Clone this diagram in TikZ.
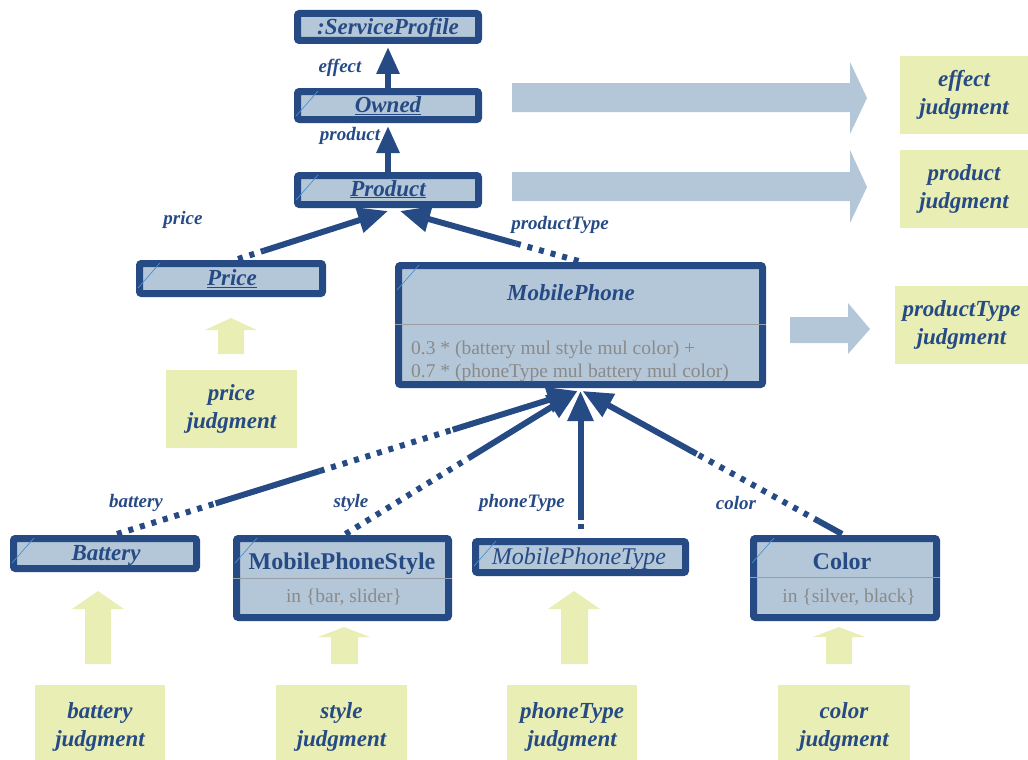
\documentclass[tikz,border=0pt]{standalone}
\usepackage{fontspec}
\setmainfont{Liberation Serif}
\usetikzlibrary{arrows.meta,calc}

\definecolor{umlblue}{HTML}{264A84}
\definecolor{umlfill}{HTML}{B4C7D9}
\definecolor{judgefill}{HTML}{E8EEB4}
\definecolor{notegray}{HTML}{8A8A8A}
\definecolor{sepgray}{HTML}{9A9EA6}
\definecolor{cornerblue}{HTML}{4A90D0}

\tikzset{
  umlbox/.style={draw=umlblue, line width=7pt, fill=umlfill, rounded corners=2pt, inner sep=0pt},
  objname/.style={text=umlblue, inner sep=0pt, anchor=base, font=\fontsize{23}{26}\selectfont\bfseries\itshape},
  bigtitle/.style={text=umlblue, inner sep=0pt, anchor=base, font=\fontsize{24}{26}\selectfont\bfseries},
  graytext/.style={text=notegray, inner sep=0pt, anchor=base, font=\fontsize{19.5}{24}\selectfont},
  rolelbl/.style={text=umlblue, inner sep=0pt, font=\fontsize{19}{22}\selectfont\bfseries\itshape},
  judgebox/.style={fill=judgefill, text=umlblue, align=center, inner sep=0pt,
    font=\fontsize{23}{28}\selectfont\bfseries\itshape},
  link/.style={draw=umlblue, line width=6pt},
  dotlink/.style={link, dash pattern=on 5pt off 7pt},
  headtip/.style={-{Triangle[length=30pt,width=25pt]}},
  smalltip/.style={-{Triangle[length=27pt,width=22pt]}},
  flowarrow/.style={fill=umlfill},
  feedarrow/.style={fill=judgefill},
  sep/.style={draw=sepgray, line width=1pt},
  corner/.style={draw=cornerblue, line width=0.7pt}
}

\begin{document}
\begin{tikzpicture}[x=1pt,y=-1pt]
\useasboundingbox (0,0) rectangle (1028,760);

% ---------- class boxes ----------
\node[umlbox, minimum width=181pt, minimum height=27pt] (sp) at (388,27) {};
\node[umlbox, minimum width=181pt, minimum height=28pt] (owned) at (388,105.5) {};
\node[umlbox, minimum width=181pt, minimum height=29pt] (product) at (388,190) {};
\node[umlbox, minimum width=183pt, minimum height=30pt] (price) at (231,278.5) {};
\node[umlbox, minimum width=364pt, minimum height=119pt] (mp) at (580.5,325) {};
\node[umlbox, minimum width=183pt, minimum height=30pt] (battery) at (105,553.5) {};
\node[umlbox, minimum width=212pt, minimum height=79pt] (style) at (342.5,578) {};
\node[umlbox, minimum width=210pt, minimum height=31pt] (mpt) at (580.5,557) {};
\node[umlbox, minimum width=183pt, minimum height=79pt] (color) at (845,578) {};

% names
\node[objname] (sp-t) at (388,34.5) {\underline{:ServiceProfile}};
\node[objname] (owned-t) at (388,112.5) {\underline{Owned}};
\node[objname] (product-t) at (388,196) {\underline{Product}};
\node[objname] (price-t) at (232,285.5) {\underline{Price}};
\node[objname] (battery-t) at (106,560) {\underline{Battery}};
\node[objname, font=\fontsize{24}{26}\selectfont\itshape] (mpt-t) at (579,564) {\underline{MobilePhoneType}};

% compartments
\node[objname] (mp-t) at (571,300) {MobilePhone};
\draw[sep] (mp.west |- 0,324) -- (mp.east |- 0,324);
\node[graytext, anchor=base west] (mpf1) at (411,354) {0.3 * (battery mul style mul color) +};
\node[graytext, anchor=base west] (mpf2) at (411,377) {0.7 * (phoneType mul battery mul color)};

\node[bigtitle] (style-t) at (342,569) {MobilePhoneStyle};
\draw[sep] (style.west |- 0,578) -- (style.east |- 0,578);
\node[graytext] (style-d) at (344,602) {in \{bar, slider\}};

\node[bigtitle] (color-t) at (842,569) {Color};
\draw[sep] (color.west |- 0,577) -- (color.east |- 0,577);
\node[graytext] (color-d) at (849,602) {in \{silver, black\}};

% corner marks
\foreach \b in {owned,product,price,mp,battery,style,mpt,color}
  \draw[corner] ($(\b.north west)+(24,3)$) -- ($(\b.north west)+(2,28)$);

% ---------- upper chain ----------
\draw[link,smalltip] (owned.north) -- ($(sp.south)+(0,3)$);
\draw[link,smalltip] (product.north) -- ($(owned.south)+(0,3)$);
\node[rolelbl] (leffect) at (340,68) {effect};
\node[rolelbl] (lproduct) at (350,136) {product};

% ---------- into Product ----------
\coordinate (pr0) at ($(price.north)+(7,-1)$);
\coordinate (pr1) at ($(product.south)+(0,3)$);
\draw[dotlink] (pr0) -- ($(pr0)!0.17!(pr1)$);
\draw[link,headtip] ($(pr0)!0.17!(pr1)$) -- (pr1);
\node[rolelbl] (lprice) at (183,220) {price};

\coordinate (pt0) at ($(mp.north)+(-2,-1)$);
\coordinate (pt1) at ($(product.south)+(12,3)$);
\draw[dotlink] (pt0) -- ($(pt0)!0.35!(pt1)$);
\draw[link,headtip] ($(pt0)!0.35!(pt1)$) -- (pt1);
\node[rolelbl] (lptype) at (560,225) {productType};

% ---------- into MobilePhone ----------
\coordinate (mptip) at ($(mp.south)+(-3,3)$);

\coordinate (b0) at ($(battery.north)+(12,-1)$);
\draw[dotlink] (b0) -- ($(b0)!0.214!(mptip)$);
\draw[link] ($(b0)!0.214!(mptip)$) -- ($(b0)!0.44!(mptip)$);
\draw[dotlink] ($(b0)!0.44!(mptip)$) -- ($(b0)!0.729!(mptip)$);
\draw[link,headtip] ($(b0)!0.729!(mptip)$) -- (mptip);
\node[rolelbl] (lbattery) at (136,503) {battery};

\coordinate (s0) at ($(style.north)+(3,-1)$);
\draw[dotlink] (s0) -- ($(s0)!0.53!(mptip)$);
\draw[link,headtip] ($(s0)!0.53!(mptip)$) -- (mptip);
\node[rolelbl] (lstyle) at (351,503) {style};

\coordinate (t0) at (mpt.north);
\coordinate (t1) at ($(mp.south)+(0,3)$);
\draw[link, dash pattern=on 5pt off 9pt, dash phase=5pt] (t0) -- ($(t0)!0.12!(t1)$);
\draw[link,headtip] ($(t0)!0.12!(t1)$) -- (t1);
\node[rolelbl] (lphone) at (522,503) {phoneType};

\coordinate (c0) at ($(color.north)+(-3,-1)$);
\coordinate (c1) at ($(mp.south)+(2,3)$);
\draw[link] (c0) -- ($(c0)!0.09!(c1)$);
\draw[dotlink] ($(c0)!0.09!(c1)$) -- ($(c0)!0.56!(c1)$);
\draw[link,headtip] ($(c0)!0.56!(c1)$) -- (c1);
\node[rolelbl] (lcolor) at (736,503) {color};

% ---------- judgments ----------
\node[judgebox, minimum width=128pt, minimum height=78pt] (jeffect) at (964,95) {effect\\judgment};
\node[judgebox, minimum width=128pt, minimum height=78pt] (jproduct) at (964,189) {product\\judgment};
\node[judgebox, minimum width=133pt, minimum height=78pt] (jptype) at (961.5,325) {productType\\judgment};
\node[judgebox, minimum width=131pt, minimum height=78pt] (jprice) at (231.5,409) {price\\judgment};
\node[judgebox, minimum width=130pt, minimum height=83pt] (jbattery) at (100,726.5) {battery\\judgment};
\node[judgebox, minimum width=131pt, minimum height=83pt] (jstyle) at (341.5,726.5) {style\\judgment};
\node[judgebox, minimum width=130pt, minimum height=83pt] (jphone) at (572,726.5) {phoneType\\judgment};
\node[judgebox, minimum width=132pt, minimum height=83pt] (jcolor) at (844,726.5) {color\\judgment};

% ---------- block arrows ----------
\fill[flowarrow] (512,83) -- (850,83) -- (850,62) -- (867,98) -- (850,134) -- (850,112) -- (512,112) -- cycle;
\fill[flowarrow] (512,172) -- (850,172) -- (850,150) -- (867,187) -- (850,223) -- (850,201) -- (512,201) -- cycle;
\fill[flowarrow] (790,317) -- (848,317) -- (848,303) -- (870,329) -- (848,354) -- (848,343) -- (790,343) -- cycle;

\fill[feedarrow] (218,354) -- (218,330) -- (205,330) -- (231,318) -- (257,330) -- (244,330) -- (244,354) -- cycle;
\fill[feedarrow] (85,664) -- (85,609) -- (72,609) -- (98,591) -- (124,609) -- (111,609) -- (111,664) -- cycle;
\fill[feedarrow] (331,664) -- (331,637) -- (318,637) -- (344,627) -- (370,637) -- (358,637) -- (358,664) -- cycle;
\fill[feedarrow] (561,664) -- (561,609) -- (548,609) -- (574,591) -- (600,609) -- (588,609) -- (588,664) -- cycle;
\fill[feedarrow] (826,664) -- (826,637) -- (813,637) -- (839,627) -- (865,637) -- (852,637) -- (852,664) -- cycle;
\end{tikzpicture}
\end{document}
